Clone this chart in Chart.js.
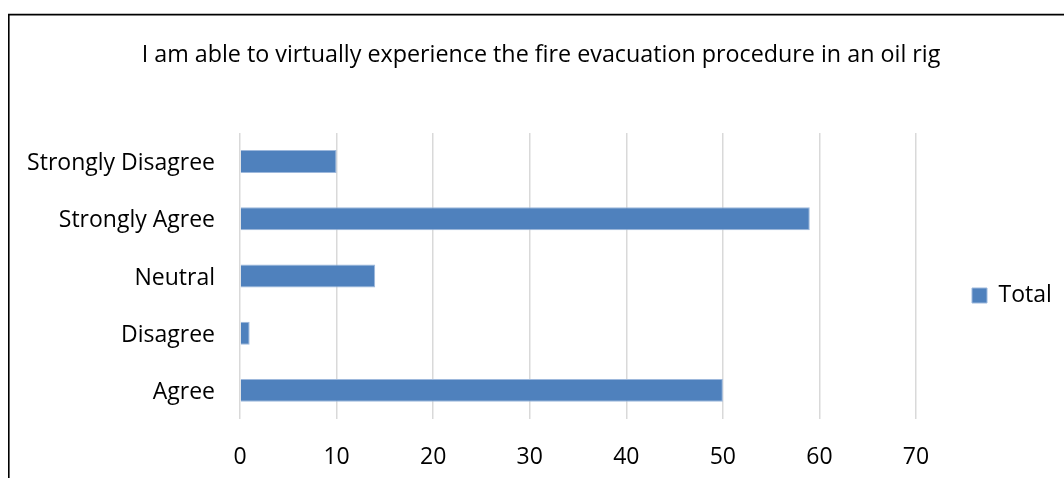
<!DOCTYPE html>
<html>
<head>
<meta charset="utf-8">
<title>Fire evacuation survey</title>
<script src="https://cdn.jsdelivr.net/npm/chart.js@4/dist/chart.umd.min.js"></script>
<style>
  html, body { margin: 0; padding: 0; background: #ffffff; }
  #wrap { position: relative; width: 1064px; height: 478px; overflow: hidden; }
  canvas { display: block; }
</style>
</head>
<body>
<div id="wrap"><canvas id="chart" width="1064" height="478"></canvas></div>
<script>
// Survey responses (category order as listed in the source table, bottom to top)
const categories = ['Agree', 'Disagree', 'Neutral', 'Strongly Agree', 'Strongly Disagree'];
const totals = [50, 1, 14, 59, 10];
const seriesName = 'Total';
const chartTitle = 'I am able to virtually experience the fire evacuation procedure in an oil rig';
const axisMin = 0;
const axisMax = 70;
const axisStep = 10;

const FONT_FAMILY = '"Open Sans", "Noto Sans", sans-serif';
const FONT_SIZE = 23;
const TITLE_SIZE = 23.3;
const TEXT_COLOR = '#000000';
const BAR_COLOR = '#4F81BD';

// Plot area geometry
const CANVAS_W = 1064;
const CANVAS_H = 478;
const PLOT_LEFT = 240;
const PLOT_RIGHT = 916;
const PLOT_BOTTOM = 419;
const TITLE_CENTER_X = 541;
const LEGEND_BOX = 15;
const LEGEND_PAD = 56;      // gap between plot edge and legend swatch
const LEGEND_EXTRA = 10;    // Chart.js adds this to vertical legends

// Size the legend column so that it sits right of the plot area,
// then balance the outer padding so the title stays centred on the frame.
const measureCtx = document.createElement('canvas').getContext('2d');
measureCtx.font = FONT_SIZE + 'px ' + FONT_FAMILY;
const legendTextWidth = measureCtx.measureText(seriesName).width;
const legendWidth = LEGEND_PAD + LEGEND_BOX + FONT_SIZE / 2 + legendTextWidth + LEGEND_EXTRA;
const PAD_RIGHT = Math.max(0, CANVAS_W - PLOT_RIGHT - legendWidth);
const PAD_LEFT = 2 * TITLE_CENTER_X - CANVAS_W + PAD_RIGHT;

// Outer frame of the chart object (left and top edges are visible)
const framePlugin = {
  id: 'frame',
  beforeDraw(chart) {
    const ctx = chart.ctx;
    ctx.save();
    ctx.strokeStyle = '#000000';
    ctx.lineWidth = 1.6;
    ctx.beginPath();
    ctx.moveTo(8.8, CANVAS_H);
    ctx.lineTo(8.8, 14.6);
    ctx.lineTo(CANVAS_W, 14.6);
    ctx.stroke();
    ctx.restore();
  }
};

new Chart(document.getElementById('chart'), {
  type: 'bar',
  data: {
    labels: categories,
    datasets: [{
      label: seriesName,
      data: totals,
      backgroundColor: BAR_COLOR,
      borderColor: '#9db8dc',
      borderWidth: 1,
      barPercentage: 0.4,
      categoryPercentage: 1.0
    }]
  },
  options: {
    indexAxis: 'y',
    responsive: false,
    animation: false,
    layout: { padding: { left: PAD_LEFT, right: PAD_RIGHT, top: 0, bottom: 0 } },
    font: { family: FONT_FAMILY, size: FONT_SIZE },
    color: TEXT_COLOR,
    scales: {
      x: {
        type: 'linear',
        min: axisMin,
        max: axisMax,
        afterFit(scale) { scale.height = CANVAS_H - PLOT_BOTTOM; },
        ticks: {
          stepSize: axisStep,
          color: TEXT_COLOR,
          font: { family: FONT_FAMILY, size: FONT_SIZE },
          padding: 25,
          maxRotation: 0
        },
        grid: { color: '#d9d9d9', lineWidth: 1.5, drawTicks: false, tickLength: 0 },
        border: { display: false }
      },
      y: {
        reverse: true,
        afterFit(scale) { scale.width = PLOT_LEFT - PAD_LEFT; },
        ticks: {
          color: TEXT_COLOR,
          font: { family: FONT_FAMILY, size: FONT_SIZE },
          padding: 25,
          labelOffset: 2
        },
        grid: { display: false, drawTicks: false, tickLength: 0 },
        border: { display: false }
      }
    },
    plugins: {
      title: {
        display: true,
        text: chartTitle,
        color: TEXT_COLOR,
        font: { family: FONT_FAMILY, size: TITLE_SIZE, weight: 'normal', lineHeight: 1.2 },
        padding: { top: 41.5, bottom: 63.5 }
      },
      legend: {
        display: true,
        position: 'right',
        align: 'center',
        // spacer above the single legend entry to drop it onto the plot's centre line
        title: { display: true, text: '', font: { size: 12, lineHeight: 1.2 }, padding: { top: 0, bottom: 98.6 } },
        labels: {
          color: TEXT_COLOR,
          font: { family: FONT_FAMILY, size: FONT_SIZE },
          boxWidth: LEGEND_BOX,
          boxHeight: LEGEND_BOX,
          padding: LEGEND_PAD
        }
      },
      tooltip: { enabled: false }
    }
  },
  plugins: [framePlugin]
});
</script>
</body>
</html>
